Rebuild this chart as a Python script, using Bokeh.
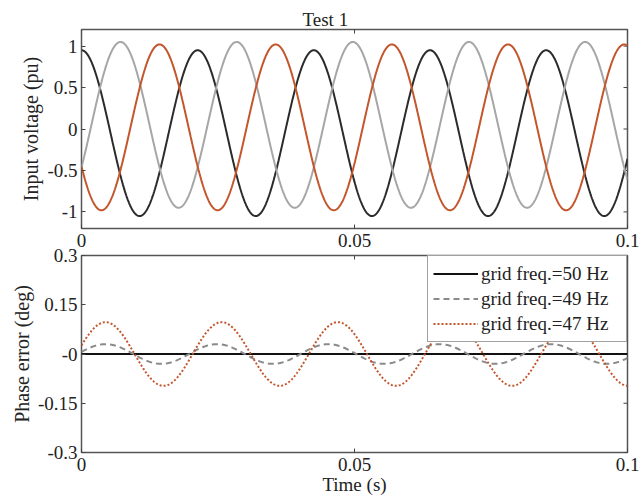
import numpy as np
from bokeh.plotting import figure
from bokeh.layouts import column
from bokeh.models import FixedTicker, CustomJSTickFormatter
from bokeh.embed import file_html
from bokeh.resources import INLINE

# ---- data ----
time_end = 0.1                     # s
n_samples = 1001

# Top panel: three-phase input voltage (47 Hz test)
phase_freq = [47, 47, 47]                  # Hz
phase_amp = [1.0, 1.0, 1.0]                # pu
phase_offset = [-0.05, 0.05, 0.02]         # pu
phase_peak_time = [0.0, 0.00714, 0.01429]  # s (time of first crest)
phase_colors = ["#2b2b2b", "#a6a6a6", "#c4562e"]

# Bottom panel: phase error for three grid frequencies
err_labels = ["grid freq.=50 Hz", "grid freq.=49 Hz", "grid freq.=47 Hz"]
err_freq = [50, 49, 47]            # Hz
err_amp = [0.0, 0.03, 0.097]       # deg
err_peak_time = [0.0044, 0.0044, 0.0044]
err_colors = ["#111111", "#8a8a8a", "#c4562e"]
err_dash = ["solid", "6 4", "2 2"]

x_ticks = [0, 0.05, 0.1]
y1_ticks = [-1, -0.5, 0, 0.5, 1]
y1_lim = (-1.2, 1.2)
y2_ticks = [-0.3, -0.15, 0, 0.15, 0.3]
y2_lim = (-0.3, 0.3)

t = np.linspace(0, time_end, n_samples)

FONT = "Liberation Serif"
TXT = "#222222"
TICK = "#444444"

fmt_plain = CustomJSTickFormatter(code="return String(tick);")
fmt_err = CustomJSTickFormatter(code="return (tick == 0) ? '-0' : String(tick);")


def style(p, yticks, ylim, yfmt, ylabel):
    p.outline_line_color = "#555555"
    p.outline_line_width = 1.5
    p.xgrid.grid_line_color = None
    p.ygrid.grid_line_color = None
    p.xaxis.ticker = FixedTicker(ticks=x_ticks)
    p.xaxis.formatter = fmt_plain
    p.yaxis.ticker = FixedTicker(ticks=yticks)
    p.yaxis.formatter = yfmt
    p.yaxis.axis_label = ylabel
    for ax in p.xaxis + p.yaxis:
        ax.axis_line_color = None
        ax.major_tick_in = 4
        ax.major_tick_out = 0
        ax.major_tick_line_color = TICK
        ax.minor_tick_line_color = None
        ax.major_label_text_font = FONT
        ax.major_label_text_font_size = "19px"
        ax.major_label_text_color = TXT
        ax.axis_label_text_font = FONT
        ax.axis_label_text_font_style = "normal"
        ax.axis_label_text_color = TXT
    p.yaxis.major_label_standoff = 4
    p.yaxis.axis_label_text_font_size = "20px"
    p.yaxis.axis_label_standoff = 2
    # mirrored inward ticks on the right and top edges
    p.ray(x=[time_end] * len(yticks), y=yticks, length=4, length_units="screen",
          angle=np.pi, line_color=TICK, line_width=1)
    p.ray(x=x_ticks, y=[ylim[1]] * len(x_ticks), length=4, length_units="screen",
          angle=-np.pi / 2, line_color=TICK, line_width=1)


p1 = figure(width=639, height=255, x_range=(0, time_end), y_range=y1_lim,
            output_backend="svg", toolbar_location=None,
            min_border_left=81, min_border_right=12,
            min_border_top=29, min_border_bottom=27)
p1.title.text = "Test 1"
p1.title.text_font = FONT
p1.title.text_font_size = "19px"
p1.title.text_font_style = "normal"
p1.title.text_color = TXT
p1.title.align = "left"
p1.title.offset = 221
p1.title.standoff = 0
style(p1, y1_ticks, y1_lim, fmt_plain, "Input voltage (pu)")
p1.xaxis.major_label_standoff = 5

for f, a, off, tp, c in zip(phase_freq, phase_amp, phase_offset, phase_peak_time, phase_colors):
    v = a * np.cos(2 * np.pi * f * (t - tp)) + off
    p1.line(t, v, line_color=c, line_width=2)

p2 = figure(width=639, height=255, x_range=(0, time_end), y_range=y2_lim,
            output_backend="svg", toolbar_location=None,
            min_border_left=81, min_border_right=12,
            min_border_top=10, min_border_bottom=48)
p2.border_fill_alpha = 0.0
p2.background_fill_alpha = 0.0
style(p2, y2_ticks, y2_lim, fmt_err, "Phase error (deg)")
p2.xaxis.major_label_standoff = 5
p2.xaxis.axis_label = "Time (s)"
p2.xaxis.axis_label_text_font_size = "19px"
p2.xaxis.axis_label_text_line_height = 0.8
p2.xaxis.axis_label_standoff = 0

for lab, f, a, tp, c, d in zip(err_labels, err_freq, err_amp, err_peak_time, err_colors, err_dash):
    v = a * np.cos(2 * np.pi * f * (t - tp))
    p2.line(t, v, line_color=c, line_width=2, line_dash=d, legend_label=lab)

lg = p2.legend[0]
lg.location = "top_right"
lg.margin = 0
lg.padding = 5
lg.spacing = 0
lg.glyph_width = 45
lg.glyph_height = 25
lg.label_height = 25
lg.label_width = 140
lg.label_standoff = 3
lg.label_text_font = FONT
lg.label_text_font_size = "19px"
lg.label_text_color = TXT
lg.border_line_color = "#444444"
lg.border_line_width = 1.2
lg.background_fill_color = "white"
lg.background_fill_alpha = 1.0

p2.margin = (-10, 0, 0, 0)

layout = column(p1, p2, spacing=0)
open("out.html", "w").write(file_html(layout, INLINE))
